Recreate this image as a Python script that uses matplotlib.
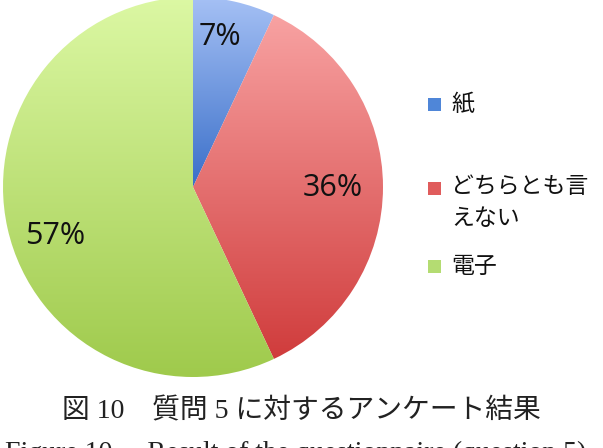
import numpy as np
import matplotlib
matplotlib.use("Agg")
import matplotlib.pyplot as plt
from matplotlib.colors import LinearSegmentedColormap

labels = ["紙", "どちらとも言\nえない", "電子"]
values = [7, 36, 57]
pct_labels = ["7%", "36%", "57%"]
caption_jp = "図 10　質問 5 に対するアンケート結果"
caption_en = "Figure 10     Result of the questionnaire (question 5)"

grad_colors = [("#a6c1f5", "#3a6fc9"),
               ("#f8a2a2", "#d03c3c"),
               ("#dcf8a4", "#9fca4c")]
legend_colors = ["#4f86d8", "#e05c5c", "#b4dc72"]

W, H = 603, 448
fig = plt.figure(figsize=(W / 100, H / 100), dpi=100)
ax = fig.add_axes([0, 0, 1, 1])

cx, cy, r = 193, H - 187, 190
wedges, _ = ax.pie(values, startangle=90, counterclock=False, center=(cx, cy),
                   radius=r, frame=True, colors=["none"] * 3,
                   wedgeprops=dict(linewidth=0))
ax.set_xlim(0, W)
ax.set_ylim(0, H)
ax.set_aspect("equal")
ax.axis("off")

for w, (c1, c2) in zip(wedges, grad_colors):
    ext = w.get_path().transformed(w.get_patch_transform()).get_extents()
    cmap = LinearSegmentedColormap.from_list("g", [c2, c1])
    grad = np.linspace(0, 1, 256).reshape(-1, 1)
    im = ax.imshow(grad, cmap=cmap, origin="lower", aspect="auto",
                   extent=(ext.x0, ext.x1, ext.y0, ext.y1), zorder=1,
                   interpolation="bilinear")
    im.set_clip_path(w)

# percentage labels
pct_pos = [(220, 37), (333, 188), (55, 236)]
for (px, py), t in zip(pct_pos, pct_labels):
    ax.text(px, H - py, t, ha="center", va="center", fontsize=22,
            family="Open Sans", color="#111111", zorder=3)

# legend
leg_sq_y = [104, 188, 266]
leg_txt_y = [104, 175, 266]
for sy, ty, lab, col in zip(leg_sq_y, leg_txt_y, labels, legend_colors):
    ax.add_patch(plt.Rectangle((428, H - sy - 6.5), 13, 13, facecolor=col,
                               edgecolor="none", zorder=3))
    multi = "\n" in lab
    ax.text(451, H - ty, lab, ha="left", va="top" if multi else "center",
            fontsize=16.5, family=["Noto Sans CJK JP"], linespacing=1.5,
            color="#111111", zorder=3)

ax.text(301, H - 411, caption_jp, ha="center", va="center", fontsize=20,
        family=["Liberation Serif", "Noto Sans CJK JP"], color="#222222")
ax.text(296, H - 460, caption_en, ha="center", va="baseline", fontsize=20,
        family=["Liberation Serif"], color="#222222")

fig.savefig("out.png", dpi=100)
